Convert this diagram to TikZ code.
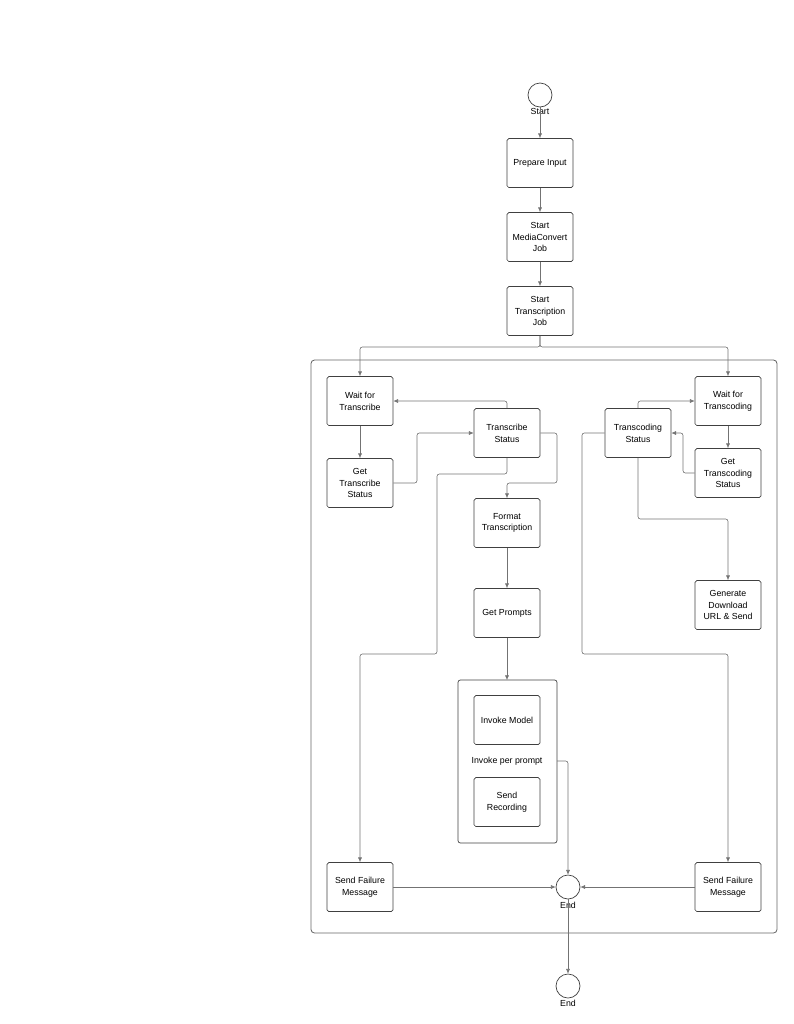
\documentclass[tikz,border=0pt]{standalone}
\usepackage{fontspec}
\setmainfont{Liberation Sans}
\usetikzlibrary{arrows.meta}

\begin{document}
\begin{tikzpicture}[x=0.03cm,y=-0.03cm]
\tikzstyle{task}=[rectangle,draw=black!75,line width=0.6pt,rounded corners=1.5pt,minimum width=1.98cm,minimum height=1.47cm,align=center,font=\fontsize{7.5}{10}\selectfont,inner sep=1pt]
\tikzstyle{event}=[circle,draw=black!75,line width=0.6pt,minimum size=0.72cm,inner sep=0pt]
\tikzstyle{lbl}=[font=\fontsize{7.5}{10}\selectfont,inner sep=0pt]
\tikzstyle{flow}=[draw=black!55,line width=0.5pt,rounded corners=2pt,-{Latex[length=4pt,width=3.5pt]}]
\useasboundingbox (0,0) rectangle (794,1024);
% outer frame and loop container
\draw[black!60,line width=0.7pt,rounded corners=3pt] (311,360) rectangle (777,933);
\draw[black!75,line width=0.6pt,rounded corners=2pt] (458,680) rectangle (557,843);
\node [event] (start) at (540,95) {};
\node [lbl] at (540,111) {Start};
\node [task] (prep) at (540,163) {Prepare Input};
\node [task] (mc) at (540,237) {Start\\MediaConvert\\Job};
\node [task] (tj) at (540,311) {Start\\Transcription\\Job};
\node [task] (waitT) at (360,401) {Wait for\\Transcribe};
\node [task] (getT) at (360,483) {Get\\Transcribe\\Status};
\node [task] (statT) at (507,433) {Transcribe\\Status};
\node [task] (waitC) at (728,401) {Wait for\\Transcoding};
\node [task] (statC) at (638,433) {Transcoding\\Status};
\node [task] (getC) at (728,473) {Get\\Transcoding\\Status};
\node [task] (fmt) at (507,523) {Format\\Transcription};
\node [task] (prompts) at (507,613) {Get Prompts};
\node [task] (gen) at (728,605) {Generate\\Download\\URL \& Send};
\node [task] (invoke) at (507,720) {Invoke Model};
\node [lbl] (per) at (507,761) {Invoke per prompt};
\node [task] (rec) at (507,802) {Send\\Recording};
\node [task] (failL) at (360,887) {Send Failure\\Message};
\node [task] (failR) at (728,887) {Send Failure\\Message};
\node [event] (end) at (568,887) {};
\node [lbl] at (568,905) {End};
\node [event] (endo) at (568,986) {};
\node [lbl] at (568,1003) {End};
\coordinate (loop) at (507,680);
\coordinate (loopE) at (557,761);
% connectors
\draw[flow] (start) -- (prep);
\draw[flow] (prep) -- (mc);
\draw[flow] (mc) -- (tj);
\draw[flow] (tj.south) |- (450,347) -| (waitT.north);
\draw[flow] (tj.south) |- (650,347) -| (waitC.north);
\draw[flow] (waitT) -- (getT);
\draw[flow] (getT.east) -| (417,458) |- (statT.west);
\draw[flow] (statT.north) |- (waitT.east);
\draw[flow] (statT.east) -| (557,483) -| (fmt.north);
\draw[flow] (statT.south) |- (437,474) |- (400,654) -| (failL.north);
\draw[flow] (fmt) -- (prompts);
\draw[flow] (prompts) -- (loop);
\draw[flow] (loopE) -| (end.north);
\draw[flow] (failL) -- (end);
\draw[flow] (failR) -- (end);
\draw[flow] (end) -- (endo);
\draw[flow] (statC.north) |- (waitC.west);
\draw[flow] (waitC) -- (getC);
\draw[flow] (getC.west) -| (683,450) |- (statC.east);
\draw[flow] (statC.south) |- (680,519) -| (gen.north);
\draw[flow] (statC.west) -| (582,600) |- (650,654) -| (failR.north);
\end{tikzpicture}
\end{document}
